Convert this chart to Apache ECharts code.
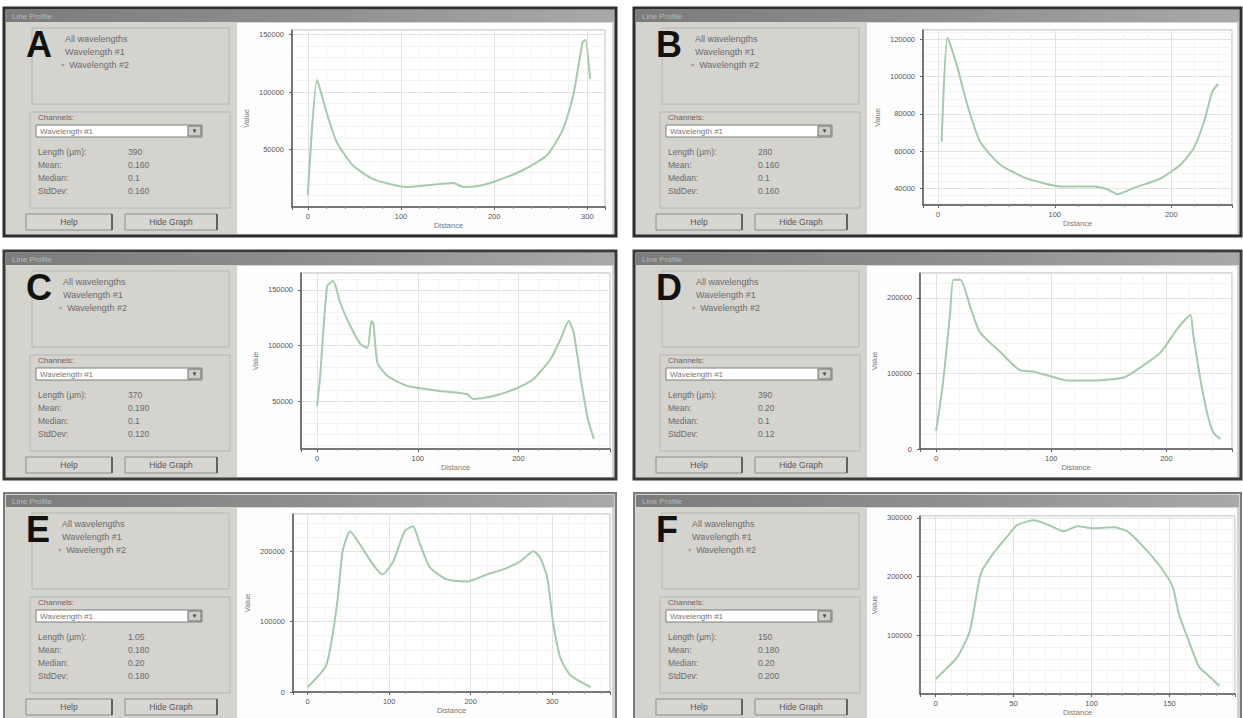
<!DOCTYPE html>
<html><head><meta charset="utf-8">
<script src="https://cdn.jsdelivr.net/npm/echarts@6/dist/echarts.min.js"></script>
<style>html,body{margin:0;padding:0;background:#fff}#c{width:1243px;height:718px}</style>
</head><body><div id="c"></div>
<script>
// ---------- data ----------
const panelIds = ['A', 'B', 'C', 'D', 'E', 'F'];
const legendLabels = ['All wavelengths', 'Wavelength #1', 'Wavelength #2'];
const channelLabel = 'Channels:';
const channelValue = 'Wavelength #1';
const statLabels = ['Length (\u00b5m):', 'Mean:', 'Median:', 'StdDev:'];
const statValuesA = ['390', '0.160', '0.1', '0.160'];
const statValuesB = ['280', '0.160', '0.1', '0.160'];
const statValuesC = ['370', '0.190', '0.1', '0.120'];
const statValuesD = ['390', '0.20', '0.1', '0.12'];
const statValuesE = ['1.05', '0.180', '0.20', '0.180'];
const statValuesF = ['150', '0.180', '0.20', '0.200'];
const buttonLabels = ['Help', 'Hide Graph'];
const xAxisTitle = 'Distance';
const yAxisTitle = 'Value';

const A_dist  = [0, 10, 20, 31, 48, 70, 106, 120, 142, 156, 167, 183, 199, 231, 257, 274, 285, 295, 298, 303];
const A_value = [10400, 110400, 82600, 56500, 36500, 24300, 17400, 18300, 20000, 20900, 17400, 18300, 21700, 32200, 45200, 67800, 97400, 143500, 145200, 111300];

const B_dist  = [3, 8, 16, 25, 36, 53, 76, 105, 133, 145, 154, 167, 191, 208, 219, 228, 235, 240];
const B_value = [65000, 121000, 106000, 84800, 65000, 52800, 45300, 41000, 41000, 39500, 36800, 40000, 45300, 52800, 61300, 75700, 91700, 96000];

const C_dist  = [0, 3, 10, 16, 23, 33, 43, 50, 54, 56, 60, 70, 90, 122, 149, 155, 175, 199, 215, 232, 242, 250, 255, 262, 269, 275];
const C_value = [45500, 72500, 153600, 158100, 138300, 117600, 101400, 97700, 122100, 119400, 84200, 72500, 63500, 59000, 56300, 51800, 54500, 61700, 69800, 87800, 105900, 122100, 111300, 69800, 33800, 15800];

const D_dist  = [0, 6, 12, 15, 21, 30, 38, 56, 73, 84, 97, 114, 137, 163, 180, 195, 210, 221, 223, 230, 236, 241, 247];
const D_value = [24000, 88000, 177300, 224000, 224000, 186600, 154700, 128000, 104000, 102700, 97300, 90700, 90700, 94700, 110700, 128000, 160000, 177300, 154700, 88000, 44000, 21300, 13300];

const E_dist  = [0, 23, 36, 43, 52, 64, 80, 92, 105, 119, 129, 138, 150, 171, 196, 220, 240, 261, 277, 285, 294, 301, 310, 322, 335, 347];
const E_value = [7100, 38600, 124300, 200000, 228600, 210000, 181400, 167100, 185700, 228600, 235700, 210000, 177100, 160000, 157100, 167100, 174300, 185700, 200000, 191400, 162900, 100000, 48600, 24300, 14300, 7100];

const F_dist  = [0, 14, 22, 29, 37, 46, 52, 63, 73, 82, 91, 101, 114, 123, 133, 144, 152, 156, 163, 169, 176, 182];
const F_value = [25600, 63200, 107700, 205100, 239300, 268300, 287100, 295700, 287100, 276900, 285400, 282000, 283700, 276900, 251200, 217000, 182900, 136700, 85400, 46100, 29100, 13700];

// axis ranges and tick steps
const xMin  = [-17, -13, -16, -14, -18, -10];
const xMax  = [319, 252, 291, 257, 371, 192];
const xStep = [100, 100, 100, 100, 100, 50];
const yMin  = [0, 31000, 6800, 0, 0, 0];
const yMax  = [154000, 125000, 165300, 233000, 253000, 303000];
const yStep = [50000, 20000, 50000, 100000, 100000, 100000];
const yShowZero = [false, false, false, true, true, false];

// ---------- layout ----------
const FONT = 'Liberation Sans, Arial, sans-serif';
const grids = [
  {left: 292, top: 30,  width: 313, height: 177},
  {left: 923, top: 30,  width: 309, height: 175},
  {left: 301, top: 273, width: 309, height: 176},
  {left: 920, top: 273, width: 312, height: 176},
  {left: 293, top: 514, width: 317, height: 178},
  {left: 920, top: 516, width: 315, height: 178}
];
const panels = [
  {ox: 0,   oy: 0,   w: 612, border: '#2e2e2e', bw: 3, lx: 65, stats: statValuesA, x: A_dist, y: A_value},
  {ox: 630, oy: 0,   w: 607, border: '#2e2e2e', bw: 3, lx: 65, stats: statValuesB, x: B_dist, y: B_value},
  {ox: 0,   oy: 243, w: 612, border: '#3a3a3a', bw: 3, lx: 63, stats: statValuesC, x: C_dist, y: C_value},
  {ox: 630, oy: 243, w: 607, border: '#3a3a3a', bw: 3, lx: 66, stats: statValuesD, x: D_dist, y: D_value},
  {ox: 0,   oy: 485, w: 612, border: '#7a7a7a', bw: 2, lx: 62, stats: statValuesE, x: E_dist, y: E_value},
  {ox: 630, oy: 485, w: 607, border: '#7a7a7a', bw: 2, lx: 62, stats: statValuesF, x: F_dist, y: F_value}
];

function txt(x, y, s, size, color, extra) {
  return {type: 'text', z: 5, style: Object.assign({
    text: s, x: x, y: y, font: size + 'px ' + FONT, fill: color, verticalAlign: 'middle'
  }, extra || {})};
}

const graphics = [];
panels.forEach(function (p, i) {
  const ox = p.ox, oy = p.oy, W = p.w;
  // window frame + left panel background
  graphics.push({type: 'rect', z: 0, shape: {x: ox + 4, y: oy + 8, width: W, height: 228},
    style: {fill: '#d5d3ce', stroke: p.border, lineWidth: p.bw}});
  // title bar
  graphics.push({type: 'rect', z: 1, shape: {x: ox + 6, y: oy + 10, width: W - 4, height: 12},
    style: {fill: {type: 'linear', x: 0, y: 0, x2: 1, y2: 0,
      colorStops: [{offset: 0, color: '#7c7c7c'}, {offset: 0.5, color: '#8e8e8e'}, {offset: 1, color: '#a9a9a9'}]}}});
  graphics.push(txt(ox + 12, oy + 16, 'Line Profile', 8, '#b9b9b9'));
  // plot area background
  graphics.push({type: 'rect', z: 1, shape: {x: ox + 237, y: oy + 23, width: W - 237, height: 211},
    style: {fill: '#fdfdfd'}});
  // legend group box
  graphics.push({type: 'rect', z: 1, shape: {x: ox + 32, y: oy + 28, width: 197, height: 76},
    style: {fill: 'transparent', stroke: '#b8b6b0', lineWidth: 1}});
  legendLabels.forEach(function (s, k) {
    graphics.push(txt(ox + p.lx + (k === 2 ? -4 : 0), oy + 39 + 13 * k, (k === 2 ? '\u25ab  ' : '') + s, 9, '#6b6b6b'));
  });
  // big panel letter
  graphics.push({type: 'text', z: 10, style: {text: panelIds[i], x: ox + 26, y: oy + 44,
    font: 'bold 36px ' + FONT, fill: '#111', verticalAlign: 'middle'}});
  // channel group box
  graphics.push({type: 'rect', z: 1, shape: {x: ox + 30, y: oy + 112, width: 200, height: 96},
    style: {fill: 'transparent', stroke: '#b8b6b0', lineWidth: 1}});
  graphics.push(txt(ox + 38, oy + 117, channelLabel, 8, '#666'));
  graphics.push({type: 'rect', z: 2, shape: {x: ox + 36, y: oy + 125, width: 166, height: 12},
    style: {fill: '#ffffff', stroke: '#7d7d7d', lineWidth: 1}});
  graphics.push(txt(ox + 40, oy + 131, channelValue, 8, '#777'));
  graphics.push({type: 'rect', z: 3, shape: {x: ox + 188, y: oy + 126, width: 13, height: 10},
    style: {fill: '#cfcdc8', stroke: '#6d6d6d', lineWidth: 1}});
  graphics.push(txt(ox + 194.5, oy + 131, '\u25bc', 6, '#444', {align: 'center'}));
  // statistics
  statLabels.forEach(function (s, k) {
    graphics.push(txt(ox + 38, oy + 152 + 13 * k, s, 8.5, '#6a6a6a'));
    graphics.push(txt(ox + 128, oy + 152 + 13 * k, p.stats[k], 8.5, '#6a6a6a'));
  });
  // buttons
  [[26, 86], [125, 92]].forEach(function (b, k) {
    graphics.push({type: 'rect', z: 2, shape: {x: ox + b[0], y: oy + 214, width: b[1], height: 16},
      style: {fill: '#d8d6d1', stroke: '#8c8c8c', lineWidth: 1}});
    graphics.push({type: 'line', z: 3, shape: {x1: ox + b[0] + b[1], y1: oy + 214, x2: ox + b[0] + b[1], y2: oy + 230},
      style: {stroke: '#4a4a4a', lineWidth: 1.5}});
    graphics.push(txt(ox + b[0] + b[1] / 2, oy + 222, buttonLabels[k], 8.5, '#555', {align: 'center'}));
  });
});

function plainNum(v) { return String(v); }

const xAxes = [], yAxes = [], series = [], gridOpts = [];
panels.forEach(function (p, i) {
  gridOpts.push(Object.assign({show: true, backgroundColor: '#ffffff', borderColor: '#b4b4b4', borderWidth: 1, z: 2}, grids[i]));
  xAxes.push({
    gridIndex: i, type: 'value', min: xMin[i], max: xMax[i], minInterval: xStep[i], maxInterval: xStep[i], splitNumber: 3,
    z: 3,
    axisLine: {show: true, onZero: false, lineStyle: {color: '#555', width: 1.5}},
    axisTick: {show: true, length: 3, lineStyle: {color: '#666'}},
    minorTick: {show: true, splitNumber: 5, length: 2, lineStyle: {color: '#999'}},
    axisLabel: {fontSize: 7.5, color: '#555', margin: 5, fontFamily: FONT, showMinLabel: false, showMaxLabel: false, formatter: plainNum},
    splitLine: {show: true, lineStyle: {color: '#e2e2e2', width: 1}},
    minorSplitLine: {show: true, lineStyle: {color: '#f4f4f4', width: 1}},
    name: xAxisTitle, nameLocation: 'middle', nameGap: 14,
    nameTextStyle: {fontSize: 7.5, color: '#777', fontFamily: FONT}
  });
  yAxes.push({
    gridIndex: i, type: 'value', min: yMin[i], max: yMax[i], minInterval: yStep[i], maxInterval: yStep[i], splitNumber: 3,
    z: 3,
    axisLine: {show: true, onZero: false, lineStyle: {color: '#555', width: 1.5}},
    axisTick: {show: true, length: 3, lineStyle: {color: '#666'}},
    axisLabel: {fontSize: 7.5, color: '#555', margin: 8, fontFamily: FONT, showMinLabel: yShowZero[i], showMaxLabel: false, formatter: plainNum},
    splitLine: {show: true, lineStyle: {color: '#e2e2e2', width: 1}},
    minorTick: {show: false},
    minorSplitLine: {show: true, lineStyle: {color: '#f4f4f4', width: 1}},
    name: yAxisTitle, nameLocation: 'middle', nameGap: 42,
    nameTextStyle: {fontSize: 7.5, color: '#777', fontFamily: FONT}
  });
  series.push({
    type: 'line', xAxisIndex: i, yAxisIndex: i, z: 4,
    data: p.x.map(function (d, k) { return [d, p.y[k]]; }),
    showSymbol: false, smooth: 0.2,
    lineStyle: {color: '#a6caad', width: 2},
    animation: false
  });
});

const chart = echarts.init(document.getElementById('c'), null, {renderer: 'svg', width: 1243, height: 718});
chart.setOption({
  backgroundColor: '#ffffff',
  animation: false,
  graphic: {elements: graphics},
  grid: gridOpts,
  xAxis: xAxes,
  yAxis: yAxes,
  series: series
});
</script></body></html>
